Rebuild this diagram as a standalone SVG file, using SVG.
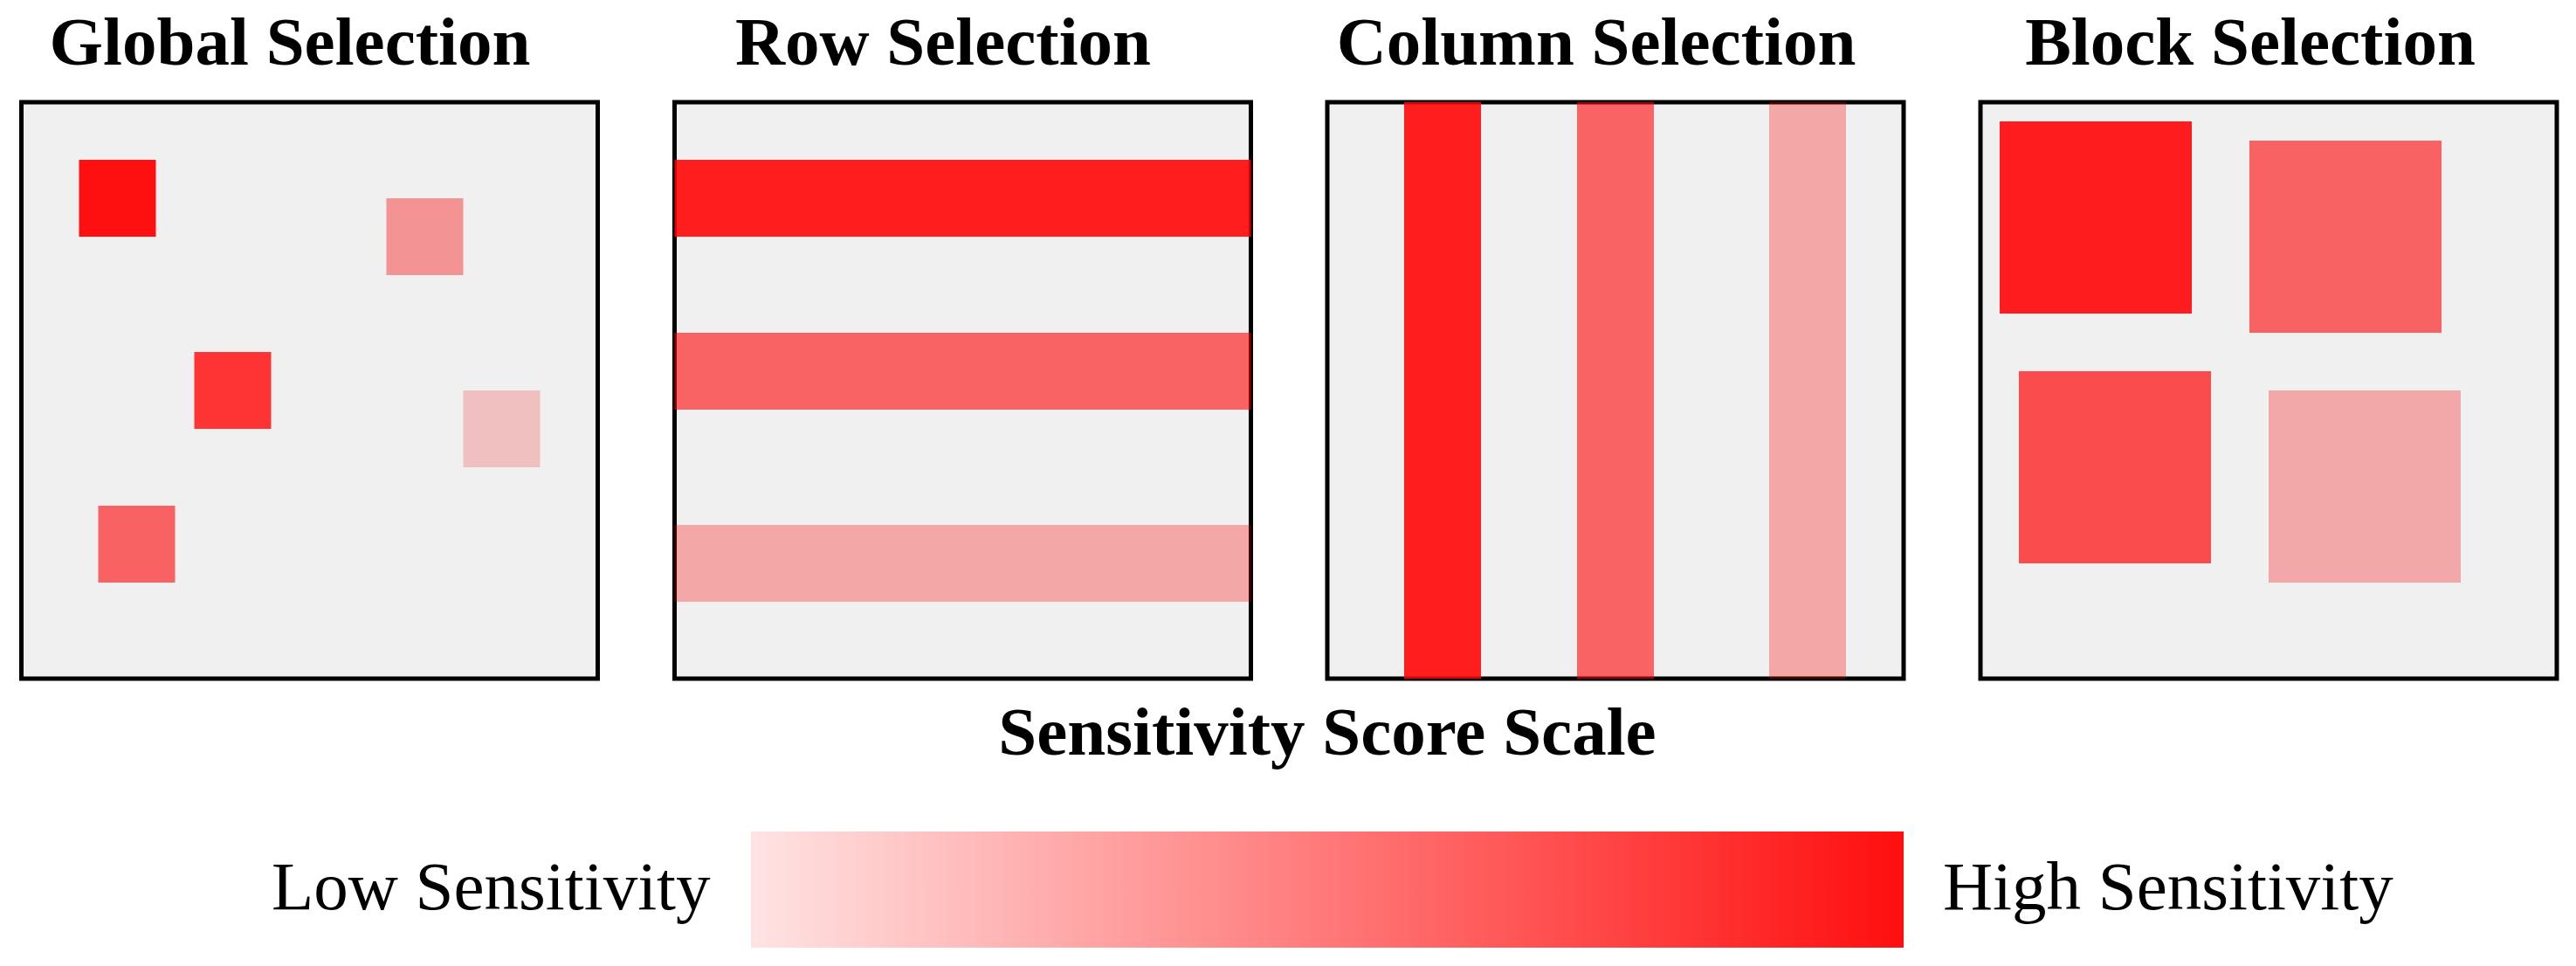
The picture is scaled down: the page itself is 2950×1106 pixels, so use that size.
<svg xmlns="http://www.w3.org/2000/svg" width="2950" height="1106" viewBox="0 0 2950 1106">
<style>
.frame{fill:#f0f0f0;stroke:#000;stroke-width:5}
.title{font-family:"Liberation Serif",serif;font-weight:bold;font-size:79px;fill:#000;text-anchor:middle}
.lbl{font-family:"Liberation Serif",serif;font-size:79px;fill:#000}
.r{fill:#ff0000}
</style>
<defs>
<linearGradient id="scale" x1="0" y1="0" x2="1" y2="0">
<stop offset="0" stop-color="#ffe3e3"/>
<stop offset="1" stop-color="#ff0e0e"/>
</linearGradient>
</defs>
<rect width="2950" height="1106" fill="#fff"/>
<g id="global">
<text class="title" x="332" y="74">Global Selection</text>
<rect class="frame" x="24.5" y="117" width="660" height="660"/>
<rect x="90.5" y="183" width="88" height="88" fill="#ff1010"/>
<rect x="442.5" y="227" width="88" height="88" fill="#f49393"/>
<rect x="222.5" y="403" width="88" height="88" fill="#fe3434"/>
<rect x="530.5" y="447" width="88" height="88" fill="#f0c0c0"/>
<rect x="112.5" y="579" width="88" height="88" fill="#f96262"/>
</g>
<g id="row">
<text class="title" x="1080" y="74">Row Selection</text>
<rect class="frame" x="772.5" y="117" width="660" height="660"/>
<rect class="r" x="772.5" y="183" width="660" height="88" fill-opacity="0.88"/>
<rect class="r" x="772.5" y="381" width="660" height="88" fill-opacity="0.59"/>
<rect class="r" x="772.5" y="601" width="660" height="88" fill-opacity="0.3"/>
</g>
<g id="column">
<text class="title" x="1828" y="74">Column Selection</text>
<rect class="frame" x="1520" y="117" width="660" height="660"/>
<rect class="r" x="1608" y="117" width="88" height="660" fill-opacity="0.88"/>
<rect class="r" x="1806" y="117" width="88" height="660" fill-opacity="0.59"/>
<rect class="r" x="2026" y="117" width="88" height="660" fill-opacity="0.3"/>
</g>
<g id="block">
<text class="title" x="2577" y="74">Block Selection</text>
<rect class="frame" x="2268" y="117" width="660" height="660"/>
<rect x="2290" y="139" width="220" height="220" fill="#fe1c1e"/>
<rect x="2576" y="161" width="220" height="220" fill="#f96262"/>
<rect x="2312" y="425" width="220" height="220" fill="#fa4b4d"/>
<rect x="2598" y="447" width="220" height="220" fill="#f2a8a8"/>
</g>
<g id="legend">
<text class="title" x="1520" y="864">Sensitivity Score Scale</text>
<rect x="860" y="952" width="1320" height="133" fill="url(#scale)"/>
<text class="lbl" x="311" y="1041">Low Sensitivity</text>
<text class="lbl" x="2225" y="1041">High Sensitivity</text>
</g>
<g id="connectors"/>
</svg>
